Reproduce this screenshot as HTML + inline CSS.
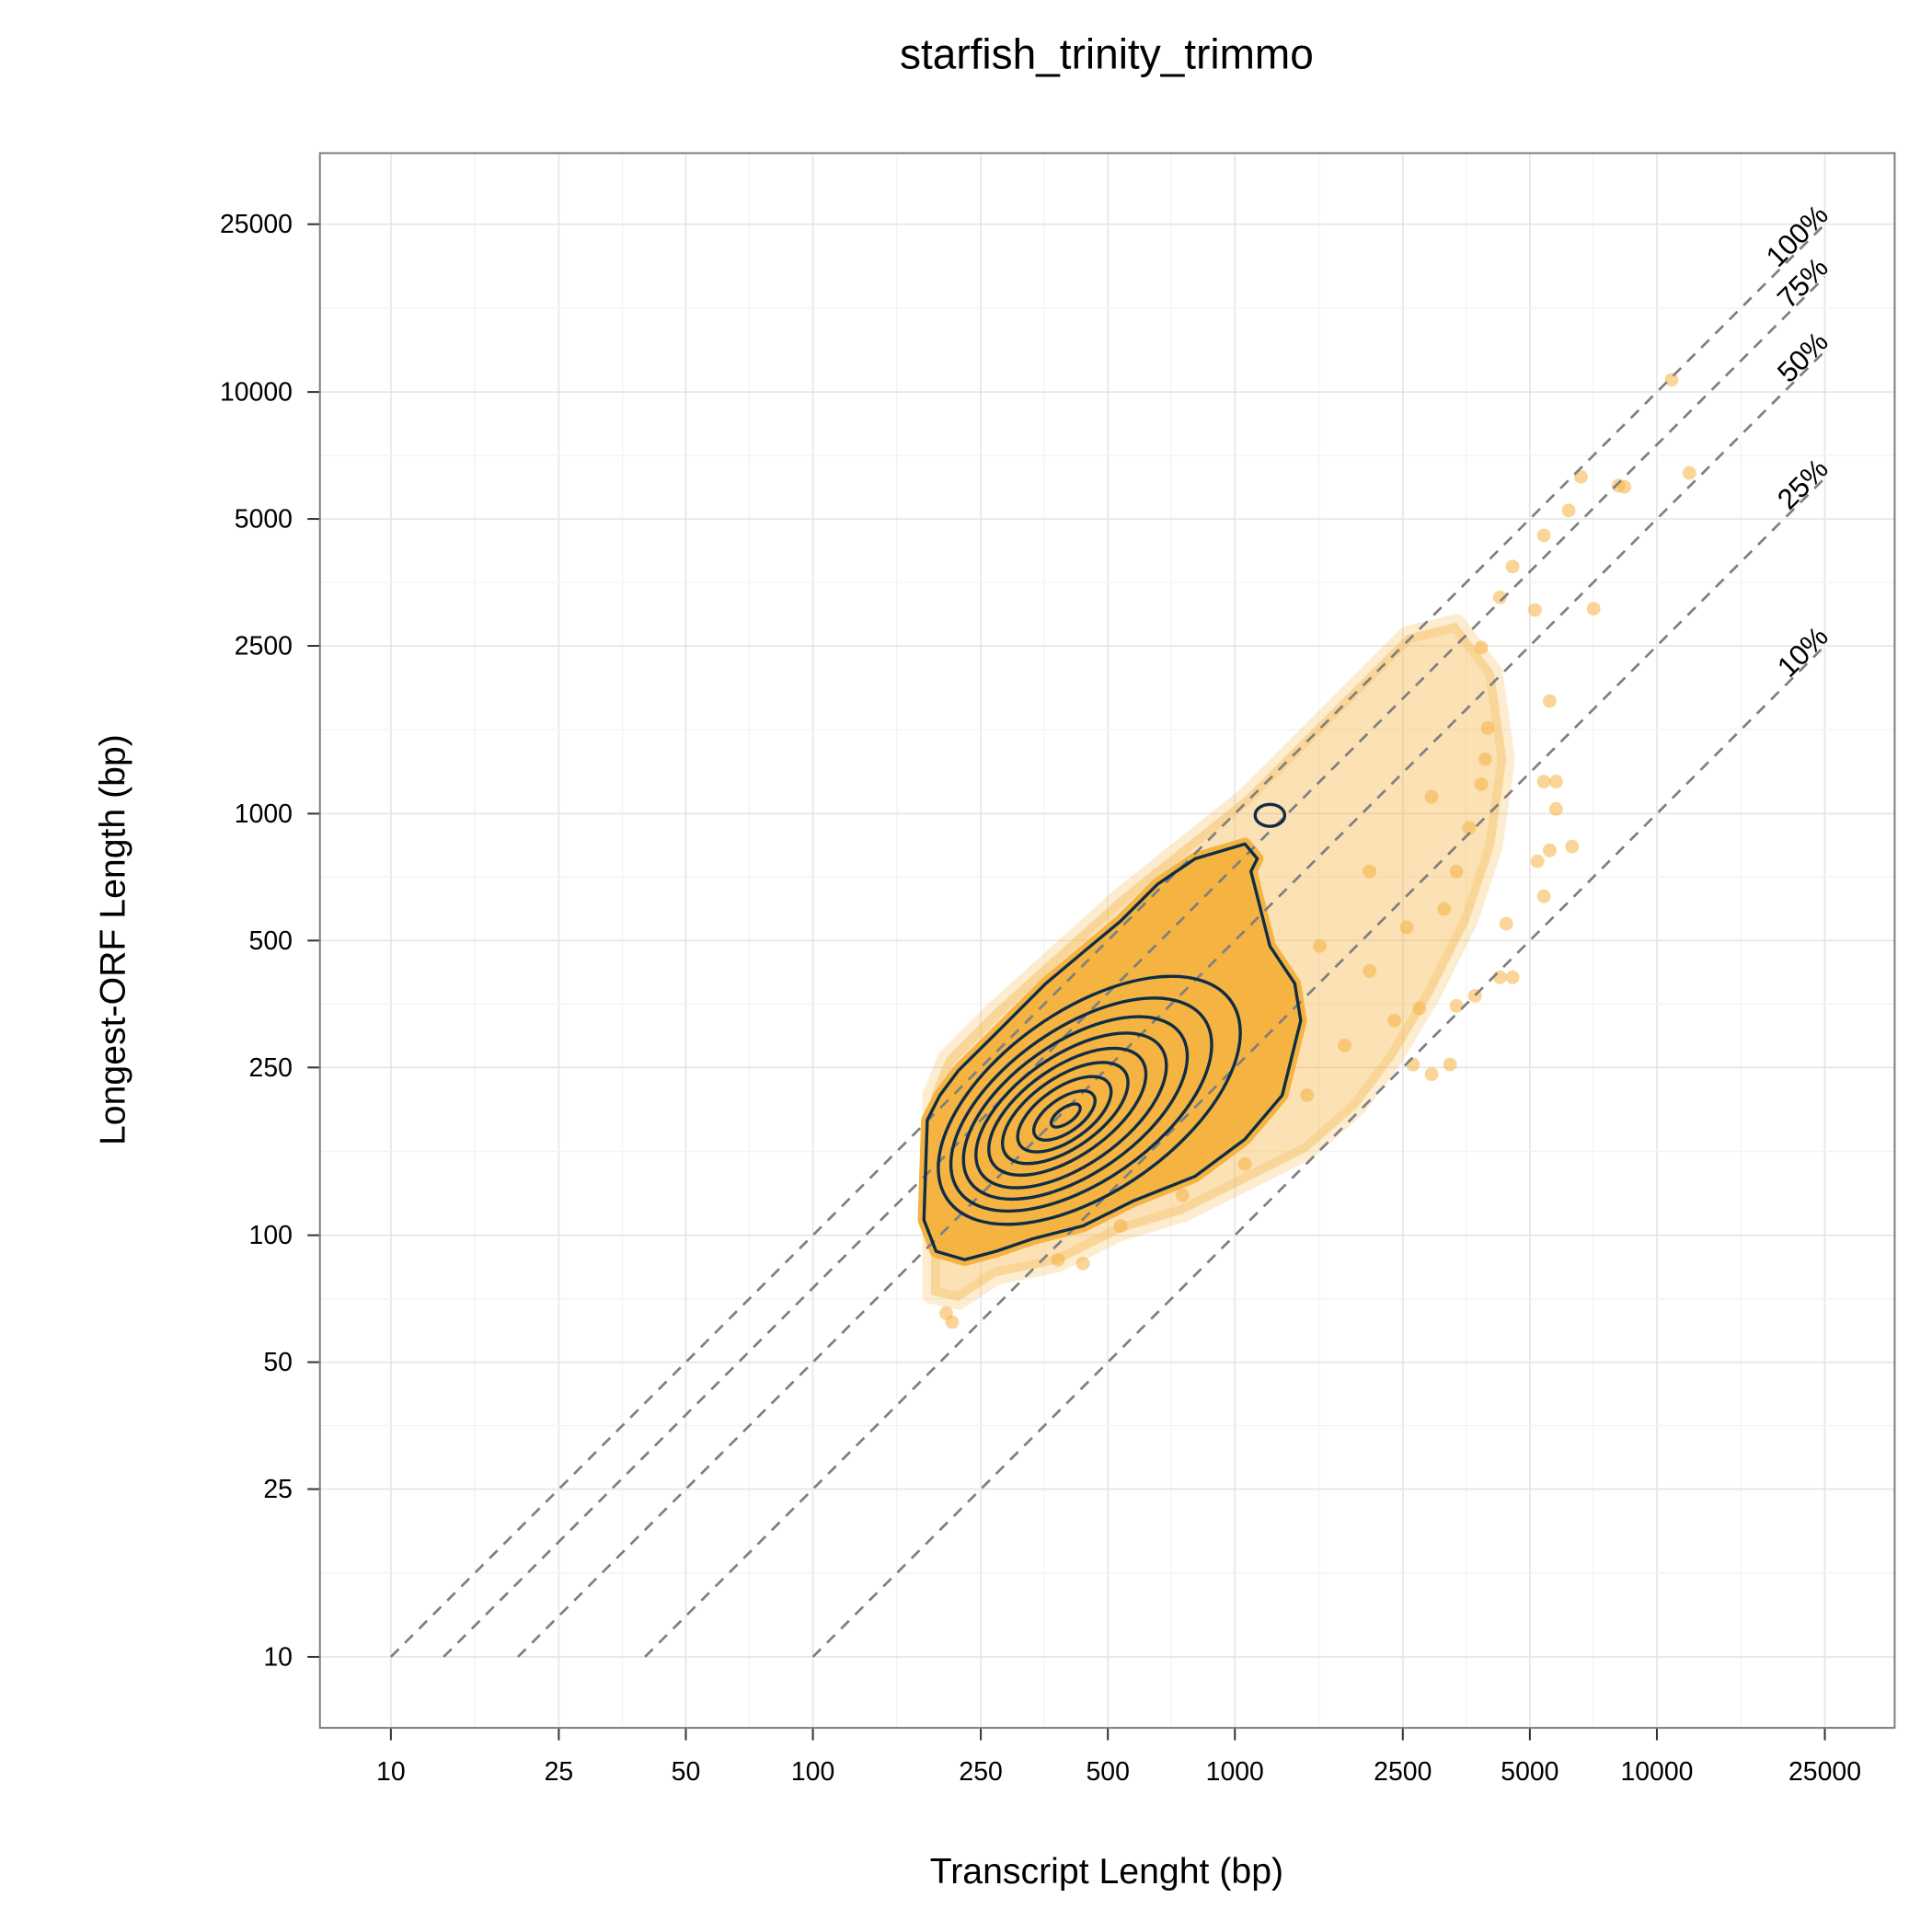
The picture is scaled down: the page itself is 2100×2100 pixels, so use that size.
<!DOCTYPE html>
<html><head><meta charset="utf-8">
<style>html,body{margin:0;padding:0;background:#fff}svg{display:block}</style>
</head><body>
<svg id="chart" width="2100" height="2100" viewBox="0 0 1552 1552" xmlns="http://www.w3.org/2000/svg" font-family="Liberation Sans, sans-serif">
<rect width="1552" height="1552" fill="#fff"/>
<text x="889" y="55" text-anchor="middle" font-size="34">starfish_trinity_trimmo</text>
<text x="889" y="1513" text-anchor="middle" font-size="29">Transcript Lenght (bp)</text>
<text transform="translate(100,755) rotate(-90)" text-anchor="middle" font-size="29">Longest-ORF Length (bp)</text>
<g id="grid"></g><g id="marks"></g><g id="axes"></g>
<rect x="257" y="123" width="1265" height="1265" fill="none" stroke="#7f7f7f" stroke-width="1.5"/>
</svg>
<script>
const xTicks=[10,25,50,100,250,500,1000,2500,5000,10000,25000];
const yTicks=[10,25,50,100,250,500,1000,2500,5000,10000,25000];
const ratioLines=[1,0.75,0.5,0.25,0.1];
const ratioLabels=["100%","75%","50%","25%","10%"];
const haloLogT=[2.280,2.345,2.434,2.581,2.729,2.876,3.024,3.171,3.289,3.378,3.466,3.555,3.614,3.643,3.614,3.525,3.407,3.260,3.142,3.024,2.876,2.729,2.581,2.434,2.316,2.280];
const haloLogO=[1.859,1.844,1.903,1.933,2.007,2.051,2.125,2.199,2.302,2.420,2.568,2.745,2.922,3.129,3.335,3.453,3.424,3.276,3.158,3.040,2.922,2.804,2.671,2.538,2.420,2.332];
const outerLogT=[2.271,2.263,2.292,2.360,2.434,2.522,2.640,2.758,2.906,3.024,3.112,3.156,3.142,3.083,3.053,3.038,3.053,3.024,2.906,2.817,2.729,2.640,2.552,2.434,2.345,2.301];
const outerLogO=[2.273,2.036,1.962,1.942,1.962,1.992,2.022,2.081,2.140,2.228,2.332,2.509,2.597,2.686,2.804,2.863,2.893,2.928,2.893,2.833,2.745,2.671,2.597,2.479,2.391,2.332];
const contourCT=[2.655,2.636,2.622,2.612,2.603,2.598,2.596,2.596,2.599];
const contourCO=[2.320,2.310,2.302,2.296,2.293,2.290,2.287,2.284,2.284];
const contourA=[0.410,0.355,0.305,0.260,0.215,0.172,0.128,0.084,0.040];
const contourB=[0.215,0.182,0.155,0.130,0.105,0.083,0.062,0.040,0.018];
const islandCT=3.083, islandCO=2.996, islandA=0.035, islandB=0.026;
const ptLogT=[4.035,4.077,3.923,3.820,3.850,3.746,3.732,3.711,3.628,3.599,3.593,3.732,3.761,3.761,3.746,3.799,3.717,3.732,3.643,3.658,3.628,3.569,3.525,3.437,3.510,3.466,3.422,3.378,3.319,3.407,3.496,3.525,3.555,3.466,3.584,3.319,3.201,3.260,3.171,3.024,2.876,2.729,2.640,2.581,2.316,2.330,3.584,3.658,3.791,3.909];
const ptLogO=[4.029,3.808,3.775,3.799,3.486,3.267,3.660,3.483,3.513,3.203,3.129,3.076,3.076,3.011,2.913,2.922,2.887,2.804,2.739,2.612,2.612,2.568,2.544,2.538,2.405,2.382,2.405,2.509,2.627,2.730,2.774,2.863,2.966,3.040,3.070,2.863,2.686,2.450,2.332,2.169,2.095,2.022,1.933,1.942,1.815,1.794,3.394,3.586,3.719,3.778];

const NS="http://www.w3.org/2000/svg";
const X0=314,XD=339,Y0=1331,YD=338.7;
const lx=l=>X0+(l-1)*XD, ly=l=>Y0-(l-1)*YD;
const sx=v=>lx(Math.log10(v)), sy=v=>ly(Math.log10(v));
function mk(tag,attrs,parent){const e=document.createElementNS(NS,tag);for(const k in attrs)e.setAttribute(k,attrs[k]);parent.appendChild(e);return e;}
const grid=document.getElementById('grid'),marks=document.getElementById('marks'),axes=document.getElementById('axes');
for(let i=0;i<xTicks.length;i++){
  const x=sx(xTicks[i]);
  const g=mk('line',{x1:x,x2:x,y1:123,y2:1388,stroke:'#e5e5e5','stroke-width':1.2},grid);
  
  
  if(i<xTicks.length-1){const xm=lx((Math.log10(xTicks[i])+Math.log10(xTicks[i+1]))/2);
    const m=mk('line',{x1:xm,x2:xm,y1:123,y2:1388,stroke:'#f3f3f3','stroke-width':1},grid);
    
    }
  const t=mk('line',{x1:x,x2:x,y1:1388,y2:1398,stroke:'#333','stroke-width':1.5},axes);
  
  
  const tl=mk('text',{x:x,y:1430,'text-anchor':'middle','font-size':21},axes);tl.textContent=xTicks[i];
  
  
}
for(let i=0;i<yTicks.length;i++){
  const y=sy(yTicks[i]);
  const g=mk('line',{x1:257,x2:1522,y1:y,y2:y,stroke:'#e5e5e5','stroke-width':1.2},grid);
  
  
  if(i<yTicks.length-1){const ym=ly((Math.log10(yTicks[i])+Math.log10(yTicks[i+1]))/2);
    const m=mk('line',{x1:257,x2:1522,y1:ym,y2:ym,stroke:'#f3f3f3','stroke-width':1},grid);
    
    }
  const t=mk('line',{x1:247,x2:257,y1:y,y2:y,stroke:'#333','stroke-width':1.5},axes);
  
  
  const tl=mk('text',{x:235,y:y+7,'text-anchor':'end','font-size':21},axes);tl.textContent=yTicks[i];
  
  
}
function poly(ts,os){return ts.map((t,i)=>lx(t).toFixed(1)+','+ly(os[i]).toFixed(1)).join(' ');}
const halo=mk('polygon',{points:poly(haloLogT,haloLogO),fill:'#f5b342','fill-opacity':0.4,stroke:'#f5b342','stroke-opacity':0.25,'stroke-width':14,'stroke-linejoin':'round'},marks);


for(let i=0;i<ptLogT.length;i++){
  const c=mk('circle',{cx:lx(ptLogT[i]),cy:ly(ptLogO[i]),r:5.5,fill:'#f5b342','fill-opacity':0.55},marks);
  
  
}
const core=mk('polygon',{points:poly(outerLogT,outerLogO),fill:'#f5b342',stroke:'#f5b342','stroke-width':10,'stroke-linejoin':'round'},marks);


for(let i=0;i<ratioLines.length;i++){
  const p=ratioLines[i];
  const x1=10/p,y1=10,x2=25000,y2=25000*p;
  const l=mk('line',{x1:sx(x1),y1:sy(y1),x2:sx(x2),y2:sy(y2),stroke:'#7f7f7f','stroke-width':2,'stroke-dasharray':'9,7'},marks);
  
  
  const ex=sx(x2)+4,ey=sy(y2)-6;
  const t=mk('text',{x:ex,y:ey,'text-anchor':'end','font-size':23,transform:`rotate(-45 ${ex} ${ey})`},marks);
  t.textContent=ratioLabels[i];
  
  
}
const oc=mk('polygon',{points:poly(outerLogT,outerLogO),fill:'none',stroke:'#0f2d45','stroke-width':2.5,'stroke-linejoin':'round'},marks);


for(let i=0;i<contourCT.length;i++){
  const cx=lx(contourCT[i]),cy=ly(contourCO[i]);
  const e=mk('ellipse',{cx:cx,cy:cy,rx:contourA[i]*XD,ry:contourB[i]*XD,fill:'none',stroke:'#0f2d45','stroke-width':2.5,transform:`rotate(-35 ${cx} ${cy})`},marks);
  
  
}
const isl=mk('ellipse',{cx:lx(islandCT),cy:ly(islandCO),rx:islandA*XD,ry:islandB*XD,fill:'none',stroke:'#0f2d45','stroke-width':2.5},marks);


</script>
</body></html>
